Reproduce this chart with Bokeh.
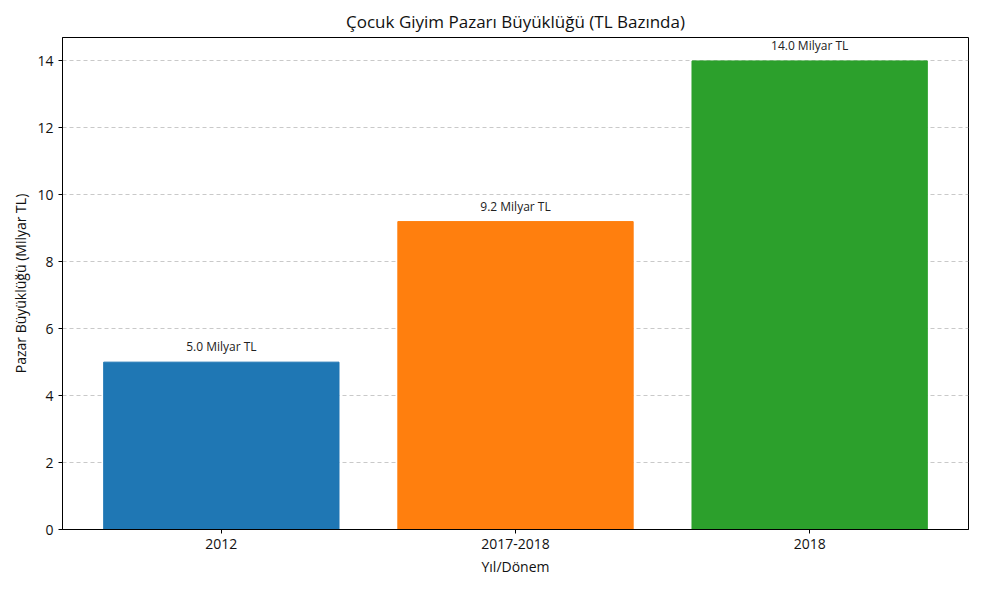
from bokeh.plotting import figure
from bokeh.models import ColumnDataSource, FixedTicker, Range1d
from bokeh.core.properties import value
from bokeh.embed import file_html
from bokeh.resources import INLINE

# Market size data
periods = ["2012", "2017-2018", "2018"]
market_size = [5.0, 9.2, 14.0]
bar_colors = ["#1f77b4", "#ff7f0e", "#2ca02c"]
value_labels = [f"{v:.1f} Milyar TL" for v in market_size]

FONT = "Open Sans"

xs = list(range(len(periods)))
source = ColumnDataSource(dict(x=xs, top=market_size, color=bar_colors, label=value_labels))

p = figure(
    width=983, height=590,
    x_range=Range1d(-0.54, len(periods) - 1 + 0.54),
    y_range=Range1d(0, max(market_size) * 1.05),
    output_backend="svg", toolbar_location=None,
    min_border_left=62, min_border_right=15, min_border_top=37, min_border_bottom=61,
)

p.vbar(x="x", top="top", width=0.8, color="color", source=source)
p.text(x="x", y="top", text="label", source=source,
       text_align="center", text_baseline="bottom", y_offset=-7,
       text_font=value(FONT), text_font_size="12px", text_color="#222222")

# Title
p.title.text = "Çocuk Giyim Pazarı Büyüklüğü (TL Bazında)"
p.title.align = "center"
p.title.text_font = FONT
p.title.text_font_size = "17px"
p.title.text_font_style = "normal"
p.title.text_color = "#111111"

# Axes
p.xaxis.ticker = FixedTicker(ticks=xs)
p.xaxis.major_label_overrides = {i: name for i, name in enumerate(periods)}
p.yaxis.ticker = FixedTicker(ticks=[0, 2, 4, 6, 8, 10, 12, 14])
p.xaxis.axis_label = "Yıl/Dönem"
p.yaxis.axis_label = "Pazar Büyüklüğü (Milyar TL)"
for ax in (p.xaxis[0], p.yaxis[0]):
    ax.axis_label_text_font = FONT
    ax.axis_label_text_font_size = "14px"
    ax.axis_label_text_font_style = "normal"
    ax.axis_label_text_color = "#111111"
    ax.major_label_text_font = FONT
    ax.major_label_text_font_size = "14px"
    ax.major_label_text_color = "#111111"
    ax.axis_line_color = "black"
    ax.major_tick_line_color = "black"
    ax.major_tick_out = 4
    ax.major_tick_in = 0
    ax.minor_tick_line_color = None
    ax.major_label_standoff = 5
p.xaxis.axis_label_standoff = 5
p.yaxis.axis_label_standoff = 4

# Grid
p.xgrid.grid_line_color = None
p.ygrid.grid_line_color = "#bbbbbb"
p.ygrid.grid_line_dash = "4 3"
p.ygrid.grid_line_width = 0.8

p.outline_line_color = "black"
p.outline_line_alpha = 1.0
p.outline_line_width = 1

open("out.html", "w").write(file_html(p, INLINE))
